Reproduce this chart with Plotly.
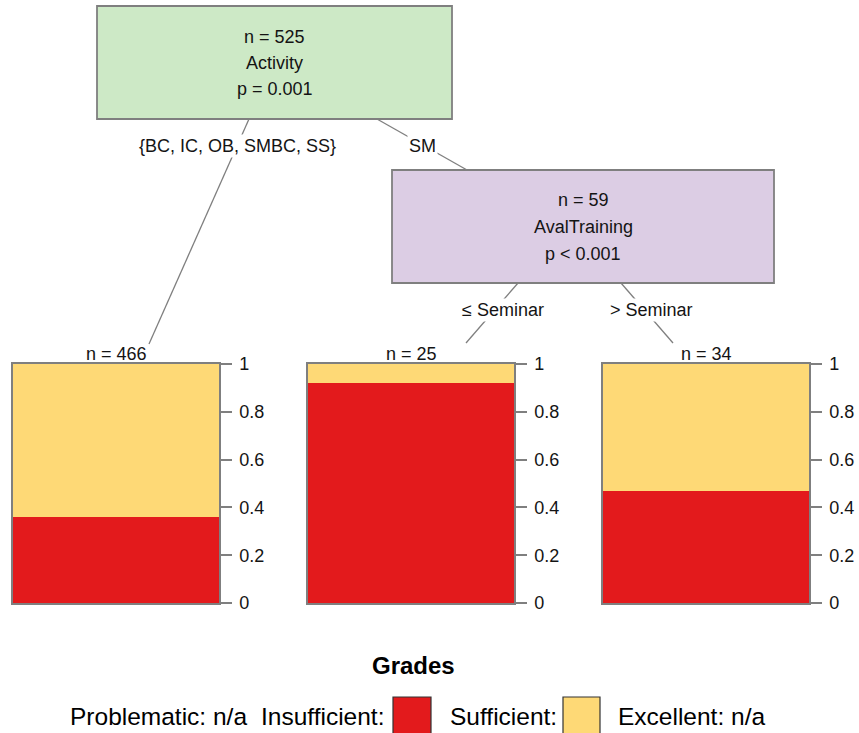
import plotly.graph_objects as go

# ---- data -------------------------------------------------------------
W, H = 859, 733

leaf_n = [466, 25, 34]
insufficient_share = [0.36, 0.92, 0.47]
sufficient_share = [0.64, 0.08, 0.53]

grade_names = ["Problematic", "Insufficient", "Sufficient", "Excellent"]
grade_colors = {"Insufficient": "#e31a1c", "Sufficient": "#fed976"}

root_lines = ["n = 525", "Activity", "p = 0.001"]
inner_lines = ["n = 59", "AvalTraining", "p &lt; 0.001"]
edge_labels = ["{BC, IC, OB, SMBC, SS}", "SM", "\u2264 Seminar", "&gt; Seminar"]
tick_vals = [0, 0.2, 0.4, 0.6, 0.8, 1]
tick_text = ["0", "0.2", "0.4", "0.6", "0.8", "1"]

FONT = "Liberation Sans, Arial, sans-serif"
TXT = "#141414"
GRAY = "#7f7f7f"


def px(x):
    return x / W


def py(y):
    return 1 - y / H


def label(x, y, text, size=18, anchor="center", color=TXT, bg=None):
    d = dict(x=px(x), y=py(y), xref="paper", yref="paper", text=text,
             xanchor=anchor, yanchor="middle", showarrow=False,
             font=dict(family=FONT, size=size, color=color))
    if bg:
        d.update(bgcolor=bg, borderpad=1)
    return d


fig = go.Figure()
shapes = []
annotations = []

# ---- terminal node bar charts -----------------------------------------
bar_left = [13, 308, 603]
bar_w = 206
bar_top, bar_bottom = 364, 603

for i in range(3):
    sfx = "" if i == 0 else str(i + 1)
    xa, ya = "x" + sfx, "y" + sfx
    fig.add_trace(go.Bar(x=[0], y=[insufficient_share[i]], width=1,
                         marker=dict(color=grade_colors["Insufficient"], line_width=0),
                         xaxis=xa, yaxis=ya, showlegend=False))
    fig.add_trace(go.Bar(x=[0], y=[sufficient_share[i]], width=1,
                         marker=dict(color=grade_colors["Sufficient"], line_width=0),
                         xaxis=xa, yaxis=ya, showlegend=False))
    fig.layout["xaxis" + sfx] = dict(
        domain=[px(bar_left[i]), px(bar_left[i] + bar_w)], range=[-0.5, 0.5],
        showticklabels=False, ticks="", showgrid=False, zeroline=False,
        showline=True, linecolor=GRAY, linewidth=1.5, mirror=True,
        anchor=ya, fixedrange=True, automargin=False)
    fig.layout["yaxis" + sfx] = dict(
        domain=[py(bar_bottom), py(bar_top)], range=[0, 1], side="right",
        tickvals=tick_vals, ticktext=tick_text, ticks="outside", ticklen=11,
        tickcolor=GRAY, tickwidth=1.5, ticklabelstandoff=4,
        tickfont=dict(family=FONT, size=18, color=TXT),
        showgrid=False, zeroline=False, showline=True, linecolor=GRAY,
        linewidth=1.5, mirror=True, anchor=xa, fixedrange=True, automargin=False)
    annotations.append(label(bar_left[i] + bar_w / 2, 354, f"n = {leaf_n[i]}"))

# ---- edges --------------------------------------------------------------
edges = [((249, 119), (149, 344)), ((377, 119), (467, 170)),
         ((518, 283), (466, 343)), ((621, 283), (673, 343))]
for (x0, y0), (x1, y1) in edges:
    shapes.append(dict(type="line", xref="paper", yref="paper",
                       x0=px(x0), y0=py(y0), x1=px(x1), y1=py(y1),
                       line=dict(color=GRAY, width=1.3), layer="below"))

label_pos = [(238, 146), (422, 146), (503, 310), (651, 310)]
for text, (x, y) in zip(edge_labels, label_pos):
    annotations.append(label(x, y, text, bg="white"))

# ---- inner nodes --------------------------------------------------------
nodes = [((97, 6, 452, 119), "#cde9c6", root_lines, [37, 63, 89]),
         ((392, 170, 774, 283), "#dccde4", inner_lines, [200, 227, 254])]
for (x0, y0, x1, y1), fill, lines, ys in nodes:
    shapes.append(dict(type="rect", xref="paper", yref="paper",
                       x0=px(x0), y0=py(y0), x1=px(x1), y1=py(y1),
                       fillcolor=fill, line=dict(color=GRAY, width=1.8)))
    for t, yy in zip(lines, ys):
        annotations.append(label((x0 + x1) / 2, yy, t))

# ---- legend -------------------------------------------------------------
annotations.append(label(413, 665, "<b>Grades</b>", size=24, color="black"))
row_y = 716
row_size = 24.5
annotations += [
    label(68, row_y, f"{grade_names[0]}: n/a", size=row_size, anchor="left", color="black"),
    label(386, row_y, f"{grade_names[1]}:", size=row_size, anchor="right", color="black"),
    label(448, row_y, f"{grade_names[2]}:", size=row_size, anchor="left", color="black"),
    label(616, row_y, f"{grade_names[3]}: n/a", size=row_size, anchor="left", color="black"),
]

for name, (x0, x1) in zip(["Insufficient", "Sufficient"], [(393, 431), (563, 600)]):
    shapes.append(dict(type="rect", xref="paper", yref="paper",
                       x0=px(x0), y0=py(697), x1=px(x1), y1=py(736),
                       fillcolor=grade_colors[name], line=dict(color="#333333", width=1.2)))

fig.update_layout(
    width=W, height=H, margin=dict(l=0, r=0, t=0, b=0, autoexpand=False),
    paper_bgcolor="white", plot_bgcolor="white",
    barmode="stack", bargap=0, showlegend=False,
    shapes=shapes, annotations=annotations,
)

fig.write_html("out.html")
